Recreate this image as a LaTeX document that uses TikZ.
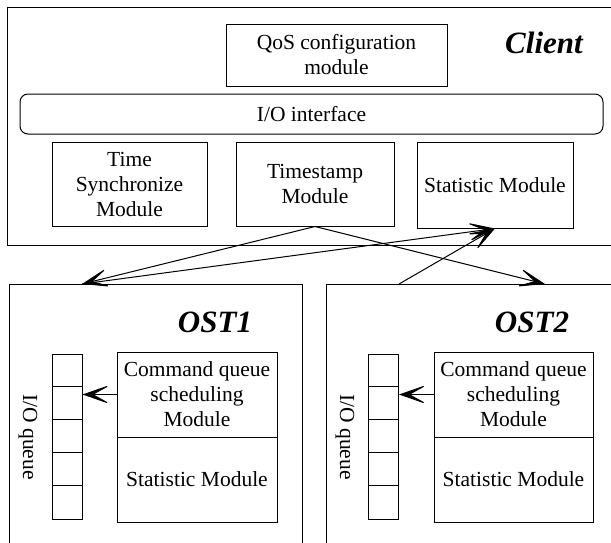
\documentclass[tikz,border=0pt]{standalone}
\usepackage{fontspec}
\setmainfont{Liberation Serif}
\usetikzlibrary{arrows.meta}
\begin{document}
\begin{tikzpicture}[x=1pt,y=-1pt,
  box/.style={draw, line width=1pt, inner sep=0pt, align=center,
    font=\fontsize{21.5}{25}\selectfont},
  plain/.style={inner sep=0pt, align=center, font=\fontsize{21.5}{25}\selectfont},
  title/.style={inner sep=0pt, font=\fontsize{31}{36}\selectfont\bfseries\itshape},
  link/.style={line width=1pt, -{Stealth[length=30pt,width=21pt,inset=19pt]}},
  cell/.style={line width=1pt},
]
\clip (0,0) rectangle (611,542);

% client side
\node[box, minimum width=643pt, minimum height=238pt] (client) at (328.5,126) {};
\node[title] (clientlbl) at (544,43) {Client};
\node[box, minimum width=221pt, minimum height=62pt] (qos) at (336.5,55) {QoS configuration\\module};
\node[box, rounded corners=8pt, minimum width=583pt, minimum height=40pt] (iface) at (311.5,114) {I/O interface};
\node[box, minimum width=155pt, minimum height=84pt] (tsync) at (129.5,184) {Time\\Synchronize\\Module};
\node[box, minimum width=158pt, minimum height=84pt] (tstamp) at (315,184) {Timestamp\\Module};
\node[box, minimum width=156pt, minimum height=86pt] (cstat) at (495,185) {Statistic Module};

% storage targets
\node[box, minimum width=293pt, minimum height=316pt] (ost1) at (155.5,442) {};
\node[box, minimum width=374pt, minimum height=316pt] (ost2) at (513,442) {};
\node[title] (ost1lbl) at (215,322) {OST1};
\node[title] (ost2lbl) at (532,322) {OST2};

% I/O queues
\node[box, minimum width=30pt, minimum height=165pt] (q1) at (67,436.5) {};
\node[box, minimum width=30pt, minimum height=165pt] (q2) at (383.5,436.5) {};
\foreach \i in {1,...,4} {
  \draw[cell] ([yshift=-33*\i pt]q1.north west) -- ([yshift=-33*\i pt]q1.north east);
  \draw[cell] ([yshift=-33*\i pt]q2.north west) -- ([yshift=-33*\i pt]q2.north east);
}
\node[plain, rotate=-90] (q1lbl) at (28,437) {I/O queue};
\node[plain, rotate=-90] (q2lbl) at (345,437) {I/O queue};

% scheduling and statistic modules
\node[box, minimum width=160pt, minimum height=85pt] (cmd1) at (197,394.5) {Command queue\\scheduling\\Module};
\node[box, minimum width=160pt, minimum height=85pt] (stat1) at (197,479.5) {Statistic Module};
\node[box, minimum width=159pt, minimum height=85pt] (cmd2) at (513.5,394.5) {Command queue\\scheduling\\Module};
\node[box, minimum width=159pt, minimum height=85pt] (stat2) at (513.5,479.5) {Statistic Module};

\draw[link] (cmd1.west) -- (cmd1.west -| q1.east);
\draw[link] (cmd2.west) -- (cmd2.west -| q2.east);

% client <-> target links
\coordinate (o1in) at (82,284);
\coordinate (o2in) at (545,284);
\coordinate (o2out) at (399,284);
\draw[link] (tstamp.south) -- (o1in);
\draw[link] (tstamp.south) -- (o2in);
\draw[link] (o1in) -- (cstat.south);
\draw[link] (o2out) -- (cstat.south);
\end{tikzpicture}
\end{document}
